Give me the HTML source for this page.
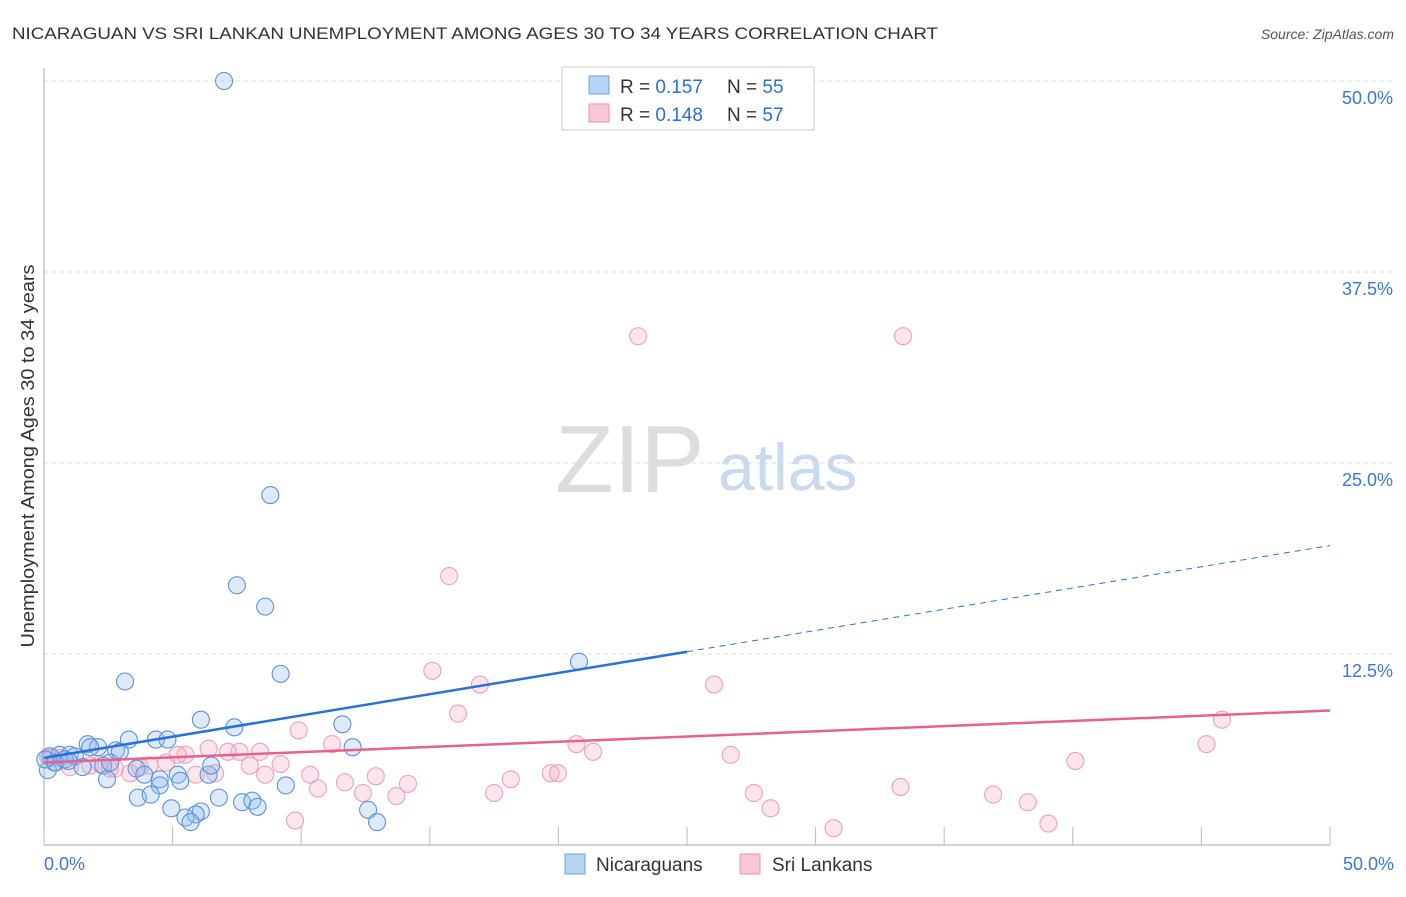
<!DOCTYPE html>
<html><head><meta charset="utf-8">
<style>
body{margin:0;background:#fff;font-family:"Liberation Sans",sans-serif;}
svg text{font-family:"Liberation Sans",sans-serif;}
</style></head>
<body>
<svg id="c" width="1406" height="892">
<text x="12" y="39" font-size="17" fill="#333" textLength="926" lengthAdjust="spacingAndGlyphs">NICARAGUAN VS SRI LANKAN UNEMPLOYMENT AMONG AGES 30 TO 34 YEARS CORRELATION CHART</text>
<text x="1394" y="39" font-size="14" fill="#555" font-style="italic" text-anchor="end">Source: ZipAtlas.com</text>
<text x="34" y="456" font-size="18" fill="#333" text-anchor="middle" textLength="383" lengthAdjust="spacingAndGlyphs" transform="rotate(-90 34 456)">Unemployment Among Ages 30 to 34 years</text>
<text x="555" y="492" font-size="96" fill="#ddd" font-family="Liberation Serif">ZIP</text>
<text x="718" y="490" font-size="66" fill="#c9d9ee">atlas</text>
<g id="grid"></g>
<g id="pts"></g>
<g id="lines"></g>
<g>
<rect x="562" y="67" width="252" height="63" fill="#fff" stroke="#ccc"/>
<rect x="589" y="76" width="20" height="18" fill="#b8d4f5" stroke="#6aa0e0"/>
<rect x="589" y="104" width="20" height="18" fill="#f9c8d8" stroke="#ec8fae"/>
<text x="620" y="93" font-size="19" fill="#333">R = <tspan fill="#2a6fd6">0.157</tspan><tspan x="727">N = </tspan><tspan fill="#2a6fd6">55</tspan></text>
<text x="620" y="121" font-size="19" fill="#333">R = <tspan fill="#2a6fd6">0.148</tspan><tspan x="727">N = </tspan><tspan fill="#2a6fd6">57</tspan></text>
</g>
<g>
<rect x="565" y="854" width="20" height="20" fill="#b8d4f5" stroke="#6aa0e0"/>
<text x="596" y="871" font-size="19" fill="#333">Nicaraguans</text>
<rect x="740" y="854" width="20" height="20" fill="#f9c8d8" stroke="#ec8fae"/>
<text x="772" y="871" font-size="19" fill="#333">Sri Lankans</text>
</g>
</svg>
<script>
const blueX=[7.0,8.8,7.5,8.6,9.2,3.15,20.8,6.1,7.4,11.6,12.0,4.35,4.8,3.3,1.7,2.1,2.8,2.95,1.8,0.6,1.0,0.25,0.4,1.2,2.3,1.5,3.6,3.9,4.5,5.2,5.3,6.4,6.5,2.45,4.5,3.65,4.15,6.8,4.95,6.1,5.9,5.5,5.7,7.7,8.1,8.3,9.4,12.6,12.95,0.15,0.45,0.8,0.05,0.95,2.57];
const blueY=[50.0,22.9,17.0,15.6,11.2,10.7,12.0,8.2,7.7,7.9,6.4,6.9,6.9,6.9,6.6,6.4,6.2,6.1,6.4,5.9,5.9,5.8,5.4,5.8,5.2,5.1,5.0,4.6,4.3,4.6,4.2,4.6,5.2,4.3,3.9,3.1,3.3,3.1,2.4,2.2,2.0,1.8,1.5,2.8,2.9,2.5,3.9,2.3,1.5,4.9,5.4,5.6,5.6,5.5,5.4];
const pinkX=[23.1,33.4,15.75,15.1,16.95,26.05,16.1,45.8,9.9,11.2,20.7,21.35,45.2,26.7,40.1,6.4,7.15,7.6,8.4,5.5,5.2,4.75,4.1,5.9,6.65,8.0,8.6,9.2,10.35,10.65,11.7,12.9,12.4,13.7,14.15,17.5,18.15,19.7,19.98,27.6,28.25,33.3,36.9,38.25,39.05,30.7,9.76,3.35,2.76,1.79,0.62,0.31,0.16,1.01,2.18,3.73,2.56];
const pinkY=[33.3,33.3,17.6,11.4,10.5,10.5,8.6,8.2,7.5,6.6,6.6,6.1,6.6,5.9,5.5,6.3,6.1,6.1,6.1,5.9,5.9,5.4,5.2,4.6,4.7,5.2,4.6,5.3,4.6,3.7,4.1,4.5,3.4,3.2,4.0,3.4,4.3,4.7,4.7,3.4,2.4,3.8,3.3,2.8,1.4,1.1,1.6,4.7,5.0,5.2,5.7,5.7,5.8,5.1,5.3,5.1,5.0];
const blueTrend=[5.7,19.6];
const pinkTrend=[5.4,8.8];
const yTicks=[12.5,25.0,37.5,50.0];
const xTickVals=[0,5,10,15,20,25,30,35,40,45,50];
const NS='http://www.w3.org/2000/svg';
const X=v=>44+v/50*1286, Y=v=>845-v/50*764;
function mk(t,a,p){const e=document.createElementNS(NS,t);for(const k in a)e.setAttribute(k,a[k]);p.appendChild(e);return e;}
const g=document.getElementById('grid');
yTicks.forEach(v=>{
 const l=mk('line',{x1:44,x2:1394,y1:Y(v),y2:Y(v),stroke:'#ddd','stroke-dasharray':'4,4'},g);
 
 
 const t=mk('text',{x:1393,y:Y(v)+23,'font-size':18,fill:'#3a78d4','text-anchor':'end'},g);t.textContent=v.toFixed(1)+'%';
 
 
});
mk('line',{x1:44,x2:44,y1:68,y2:845,stroke:'#aaa'},g);
mk('line',{x1:44,x2:1330,y1:845,y2:845,stroke:'#aaa'},g);
xTickVals.forEach(v=>{const l=mk('line',{x1:X(v),x2:X(v),y1:827,y2:845,stroke:'#bbb'},g);
 
 });
let t=mk('text',{x:44,y:870,'font-size':18,fill:'#3a78d4'},g);t.textContent='0.0%';


t=mk('text',{x:1394,y:870,'font-size':18,fill:'#3a78d4','text-anchor':'end'},g);t.textContent='50.0%';


const p=document.getElementById('pts');
pinkX.forEach((x,i)=>{const c=mk('circle',{cx:X(x),cy:Y(pinkY[i]),r:8.5,fill:'rgba(244,160,190,0.28)',stroke:'#f0a0bb','stroke-width':1.1},p);
 
 });
blueX.forEach((x,i)=>{const c=mk('circle',{cx:X(x),cy:Y(blueY[i]),r:8.5,fill:'rgba(150,190,240,0.32)',stroke:'#5b93dc','stroke-width':1.1},p);
 
 });
const L=document.getElementById('lines');
const bAt=x=>blueTrend[0]+(blueTrend[1]-blueTrend[0])*x/50;
let l=mk('line',{x1:X(0),y1:Y(bAt(0)),x2:X(25),y2:Y(bAt(25)),stroke:'#2a70d8','stroke-width':2.5},L);


l=mk('line',{x1:X(25),y1:Y(bAt(25)),x2:X(50),y2:Y(bAt(50)),stroke:'#2a70d8','stroke-width':1,'stroke-dasharray':'6,5'},L);


l=mk('line',{x1:X(0),y1:Y(pinkTrend[0]),x2:X(50),y2:Y(pinkTrend[1]),stroke:'#e8608e','stroke-width':2.5},L);


</script>
</body></html>
